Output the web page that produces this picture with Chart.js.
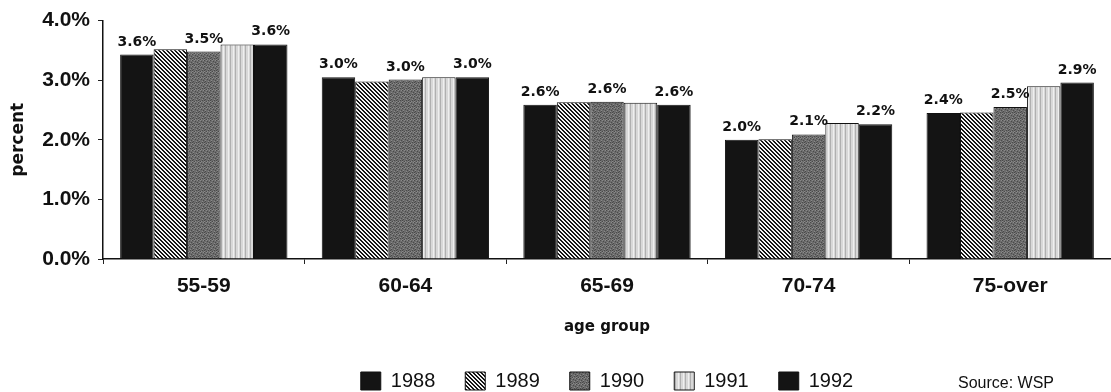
<!DOCTYPE html>
<html lang="en">
<head>
  <meta charset="UTF-8">
  <title>percent by age group</title>
  <script src="https://cdn.jsdelivr.net/npm/chart.js"></script>
  <style>
    body { margin: 0; background: #fff; }
    #chart { display: block; }
  </style>
</head>
<body>
<canvas id="chart" width="1111" height="392"></canvas>
<script>
// data
var ageGroups = ['55-59', '60-64', '65-69', '70-74', '75-over'];
var years = ['1988', '1989', '1990', '1991', '1992'];
var v1988 = [3.43, 3.05, 2.59, 2.00, 2.45];
var v1989 = [3.52, 2.98, 2.63, 2.01, 2.46];
var v1990 = [3.48, 3.01, 2.64, 2.09, 2.55];
var v1991 = [3.60, 3.05, 2.62, 2.28, 2.90];
var v1992 = [3.60, 3.05, 2.59, 2.26, 2.96];
// value labels printed over the 1988, 1990 and 1992 bars
var lab1988 = ['3.6%', '3.0%', '2.6%', '2.0%', '2.4%'];
var lab1990 = ['3.5%', '3.0%', '2.6%', '2.1%', '2.5%'];
var lab1992 = ['3.6%', '3.0%', '2.6%', '2.2%', '2.9%'];
var yTicks = [0, 1, 2, 3, 4];

function makePattern(kind) {
  var c = document.createElement('canvas');
  var g = c.getContext('2d');
  var x, y;
  if (kind === 'hatch') {
    // "\" stripes, pixel drawn so the tile repeats cleanly
    c.width = 4; c.height = 4;
    g.fillStyle = '#f4f4f4'; g.fillRect(0, 0, 4, 4);
    g.fillStyle = '#151515';
    for (y = 0; y < 4; y++) {
      for (x = 0; x < 4; x++) {
        var d = ((x - y) % 4 + 4) % 4;
        if (d === 0 || d === 1) g.fillRect(x, y, 1, 1);
      }
    }
  } else if (kind === 'speckle') {
    c.width = 6; c.height = 6;
    g.fillStyle = '#6c6c6c'; g.fillRect(0, 0, 6, 6);
    var dark = [[0,0],[3,1],[5,2],[1,3],[4,4],[2,5],[0,4]];
    var lite = [[2,0],[5,0],[1,2],[4,3],[0,5],[3,5]];
    g.fillStyle = '#4a4a4a';
    dark.forEach(function(p) { g.fillRect(p[0], p[1], 1, 1); });
    g.fillStyle = '#8a8a8a';
    lite.forEach(function(p) { g.fillRect(p[0], p[1], 1, 1); });
  } else {
    c.width = 5; c.height = 2;
    g.fillStyle = '#d8d8d8'; g.fillRect(0, 0, 5, 2);
    g.fillStyle = '#b0b0b0'; g.fillRect(0, 0, 1, 2);
    g.fillStyle = '#efefef'; g.fillRect(3, 0, 1, 2);
  }
  return g.createPattern(c, 'repeat');
}

var fills = ['#141414', makePattern('hatch'), makePattern('speckle'), makePattern('light'), '#141414'];
var series = [v1988, v1989, v1990, v1991, v1992];
var labelled = { 0: lab1988, 2: lab1990, 4: lab1992 };

var datasets = years.map(function(y, i) {
  return {
    label: y,
    data: series[i],
    backgroundColor: fills[i],
    borderColor: '#111',
    borderWidth: 1,
    categoryPercentage: 0.83,
    barPercentage: 1.0
  };
});

var valueLabels = {
  id: 'valueLabels',
  afterDatasetsDraw: function(chart) {
    var ctx = chart.ctx;
    ctx.save();
    ctx.font = 'bold 14px "DejaVu Sans"';
    ctx.fillStyle = '#111';
    ctx.textAlign = 'center';
    ctx.textBaseline = 'alphabetic';
    Object.keys(labelled).forEach(function(k) {
      var meta = chart.getDatasetMeta(+k);
      meta.data.forEach(function(bar, j) {
        ctx.fillText(labelled[k][j], bar.x, bar.y - 9);
      });
    });
    ctx.restore();
  }
};

var sourceNote = {
  id: 'sourceNote',
  afterDraw: function(chart) {
    var ctx = chart.ctx;
    ctx.save();
    ctx.font = '16px "Liberation Sans", Arial';
    ctx.fillStyle = '#111';
    ctx.textAlign = 'left';
    ctx.textBaseline = 'middle';
    ctx.fillText('Source: WSP', 958, 384);
    ctx.restore();
  }
};

new Chart(document.getElementById('chart'), {
  type: 'bar',
  data: { labels: ageGroups, datasets: datasets },
  options: {
    responsive: false,
    animation: false,
    devicePixelRatio: 1,
    layout: { padding: { top: 18, right: 0, left: 0, bottom: -9 } },
    plugins: {
      legend: {
        position: 'bottom',
        fullSize: false,
        labels: {
          boxWidth: 20,
          boxHeight: 18,
          padding: 30,
          color: '#111',
          font: { family: '"Liberation Sans", Arial', size: 20 }
        }
      },
      tooltip: { enabled: false }
    },
    scales: {
      x: {
        afterFit: function(s) { s.height = 82; },
        grid: { drawOnChartArea: false, tickLength: 5, color: '#222' },
        border: { color: '#111', width: 1.5 },
        ticks: {
          padding: 10,
          color: '#111',
          font: { family: '"Liberation Sans", Arial', size: 21, weight: 'bold' }
        },
        title: {
          display: true,
          text: 'age group',
          color: '#111',
          padding: { top: 0, bottom: 5 },
          font: { family: '"DejaVu Sans"', size: 15, weight: 'bold' }
        }
      },
      y: {
        min: 0,
        max: 4,
        afterFit: function(s) { s.width = 103; },
        afterBuildTicks: function(s) { s.ticks = yTicks.map(function(v) { return { value: v }; }); },
        grid: { drawOnChartArea: false, tickLength: 5, color: '#222' },
        border: { color: '#111', width: 1.5 },
        ticks: {
          padding: 8,
          color: '#111',
          font: { family: '"Liberation Sans", Arial', size: 21, weight: 'bold' },
          callback: function(v) { return v.toFixed(1) + '%'; }
        },
        title: {
          display: true,
          text: 'percent',
          color: '#111',
          padding: { top: 8, bottom: 0 },
          font: { family: '"DejaVu Sans"', size: 17, weight: 'bold' }
        }
      }
    }
  },
  plugins: [valueLabels, sourceNote]
});
</script>
</body>
</html>
